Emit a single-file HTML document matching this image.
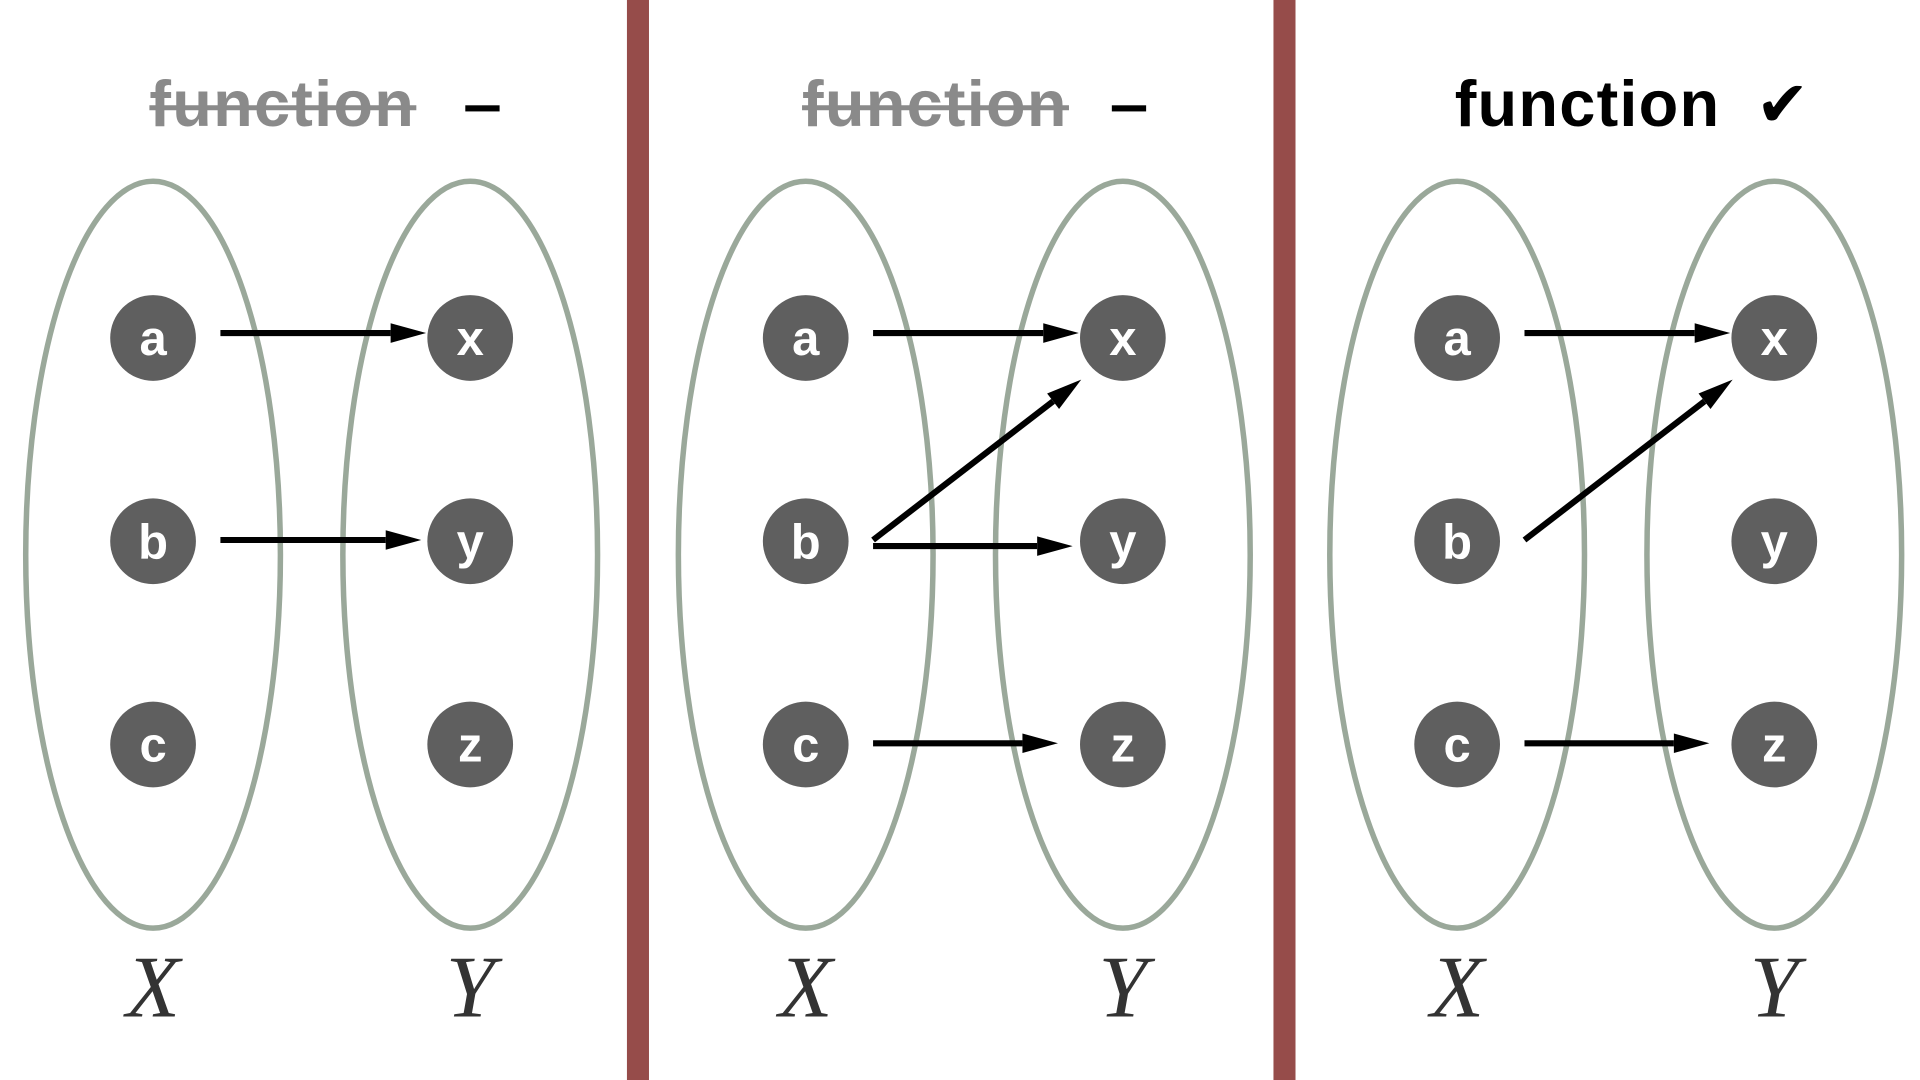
<!DOCTYPE html>
<html><head><meta charset="utf-8"><style>
html,body{margin:0;padding:0;background:#fff;width:1920px;height:1080px;overflow:hidden}
svg{display:block}
</style></head><body>
<svg id="fig" width="1920" height="1080" viewBox="0 0 1568 882" xmlns="http://www.w3.org/2000/svg">
<rect x="0" y="0" width="1568" height="882" fill="#fff"/>
<rect x="512" y="0" width="18" height="882" fill="#964c4a"/>
<rect x="1040" y="0" width="18" height="882" fill="#964c4a"/>
<g id="content"></g>
</svg>
<script>
const NS='http://www.w3.org/2000/svg';
const panelOffsets=[0,533,1065];
const domain=['a','b','c'];
const codomain=['x','y','z'];
const titles=['function','function','function'];
const valid=[false,false,true];
// mappings per panel: [fromIndex,toIndex,gapBeforeTarget]
const maps=[[[0,0,36],[1,1,40]],[[0,0,36],[1,0,0],[1,1,41],[2,2,53]],[[0,0,36],[1,0,0],[2,2,53]]];
const rowY=[276,442,608];
const g=document.getElementById('content');
function mk(tag,attrs,parent){const e=document.createElementNS(NS,tag);for(const k in attrs)e.setAttribute(k,attrs[k]);(parent||g).appendChild(e);return e;}
panelOffsets.forEach((off,p)=>{
  const xc=125+off,yc=384+off;
  const pg=mk('g',{});
  
  
  [xc,yc].forEach((cx,i)=>{
    const el=mk('ellipse',{cx:cx,cy:453,rx:104,ry:305,fill:'none',stroke:'#9aa89a','stroke-width':4.5},pg);
    
    
  });
  const t=mk('text',{x:p==2?1188:122+off,y:103,'font-family':'Liberation Sans, sans-serif','font-weight':'bold','font-size':53,fill:valid[p]?'#000':'#8a8a8a',textLength:216},pg);
  t.textContent=titles[p];
  
  
  if(!valid[p]){
    const s=mk('line',{x1:122+off,y1:88,x2:340+off,y2:88,stroke:'#8a8a8a','stroke-width':4},pg);
    
    
    const d=mk('rect',{x:380+off-(p==1?5:0),y:86,width:28,height:5,fill:'#000'},pg);
    
    
  }else{
    const c=mk('text',{x:1434,y:103,'font-family':'DejaVu Sans, sans-serif','font-size':52,fill:'#000'},pg);
    c.textContent='✔';
    
    
  }
  const nodes=(labels,cx,kind)=>labels.forEach((l,i)=>{
    const n=mk('circle',{cx:cx,cy:rowY[i],r:35,fill:'#5f5f5f'},pg);
    
    
    const tx=mk('text',{x:cx,y:rowY[i]+14,'text-anchor':'middle','font-family':'Liberation Sans, sans-serif','font-weight':'bold','font-size':40,fill:'#fff'},pg);
    tx.textContent=l;
    
    
  });
  nodes(domain,xc,'domain');nodes(codomain,yc,'codomain');
  ['X','Y'].forEach((L,i)=>{
    const lt=mk('text',{x:(i?yc:xc),y:830,'text-anchor':'middle','font-family':'Liberation Serif, serif','font-style':'italic','font-size':72,fill:'#333'},pg);
    lt.textContent=L;
    
    
  });
  maps[p].forEach(([f,to,gap])=>{
    let y1=rowY[f]-4,y2=rowY[to]-4;
    const x1=xc+55;
    let x2=yc-gap;
    if(f!==to){y1=rowY[f]-1;y2=rowY[to]+34;x2=yc-34;}
    else if(p==1&&f==1){y1+=8;y2+=8;}
    else if(f>0){y1=rowY[f]-1;y2=y1;}
    const ang=Math.atan2(y2-y1,x2-x1);
    const L=29,W=8;
    const bx=x2-L*Math.cos(ang),by=y2-L*Math.sin(ang);
    const ln=mk('line',{x1:x1,y1:y1,x2:bx,y2:by,stroke:'#000','stroke-width':5},pg);
    
    
    const px=-Math.sin(ang)*W,py=Math.cos(ang)*W;
    const hd=mk('polygon',{points:`${x2},${y2} ${bx+px},${by+py} ${bx-px},${by-py}`,fill:'#000'},pg);
    
    
  });
});
</script>
</body></html>
